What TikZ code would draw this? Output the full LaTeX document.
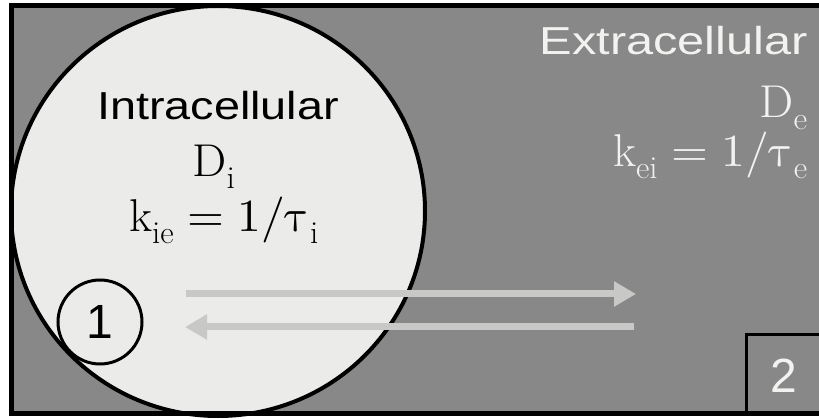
\documentclass[tikz,border=0pt]{standalone}
\usepackage{fontspec}
\usepackage{unicode-math}
\setsansfont{Liberation Sans}
\setmathfont{Latin Modern Math}
\usetikzlibrary{arrows.meta,shapes.geometric}

\newcommand\subtxt[1]{\hbox{\fontsize{32}{34}\selectfont #1}}

\definecolor{bggray}{HTML}{888888}
\definecolor{cellgray}{HTML}{EBEBE9}
\definecolor{arrgray}{HTML}{C8C8C6}
\definecolor{exttext}{HTML}{F2F2F0}

\begin{document}
\begin{tikzpicture}[x=1pt, y=-1pt,
  sanslbl/.style={inner sep=0pt, font=\sffamily\fontsize{39}{44}\selectfont},
  mathlbl/.style={inner sep=0pt, font=\fontsize{46}{50}\selectfont},
  flux/.style={draw=arrgray, line width=7pt, -{Triangle[length=22pt, width=24pt]}}]
\useasboundingbox (0,0) rectangle (819,419);
\clip (0,0) rectangle (819,419);
\fill [bggray] (11,6) rectangle (830,413);
\node [ellipse, draw=black, fill=cellgray, line width=4pt, inner sep=0pt,
  minimum width=414pt, minimum height=410pt] (cell) at (218,211) {};
\node [sanslbl, anchor=base] (intra) at (218,120) {\scalebox{1.2}[1]{Intracellular}};
\node [mathlbl, anchor=base] (di) at (214,177) {\scalebox{1.05}[1]{$\mathrm{D}_{\subtxt{i}}$}};
\node [mathlbl, anchor=base] (kie) at (224,232) {\scalebox{1.03}[1]{$\mathrm{k}_{\subtxt{ie}}=1/\uptau_{\subtxt{i}}$}};
\node [sanslbl, anchor=base east, text=exttext] (extra) at (808,55) {\scalebox{1.25}[1]{Extracellular}};
\node [mathlbl, anchor=base east, text=exttext] (de) at (808,118) {\scalebox{1.05}[1]{$\mathrm{D}_{\subtxt{e}}$}};
\node [mathlbl, anchor=base east, text=exttext] (kei) at (808,167) {\scalebox{1.03}[1]{$\mathrm{k}_{\subtxt{ei}}=1/\uptau_{\subtxt{e}}$}};
\coordinate (outA) at (186,294);
\coordinate (outB) at (636,294);
\coordinate (inA) at (634,327);
\coordinate (inB) at (185,327);
\draw [flux] (outA) -- (outB);
\draw [flux] (inA) -- (inB);
\node [circle, draw=black, line width=3pt, minimum size=84pt, inner sep=0pt,
  font=\sffamily\fontsize{48}{52}\selectfont] (one) at (100,322) {1};
\draw [line width=3.5pt] (746.5,413) |- (830,334.5);
\node [inner sep=0pt, text=exttext, font=\sffamily\fontsize{48}{52}\selectfont] (two) at (784,376) {2};
\draw [line width=5pt] (11,6) rectangle (830,413);
\end{tikzpicture}
\end{document}
